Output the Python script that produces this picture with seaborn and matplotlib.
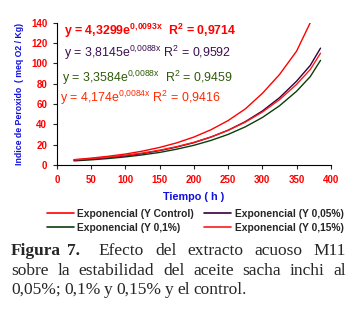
import numpy as np
import pandas as pd
import seaborn as sns
import matplotlib.pyplot as plt

# data (trend curves, peroxide index vs time)
tiempo = [25, 50, 75, 100, 125, 150, 175, 200, 225, 250, 275, 300, 325, 350, 370, 385]
y_control = [5.4, 6.9, 8.7, 10.9, 13.8, 17.4, 21.9, 27.6, 34.8, 43.8, 55.2, 70.5, 89.0, 112.0, 140.0, None]
y_005 = [4.8, 5.9, 7.4, 9.2, 11.4, 14.3, 17.8, 22.1, 27.6, 34.3, 42.7, 53.2, 66.2, 82.5, 98.0, 115.0]
y_01 = [4.2, 5.2, 6.5, 8.1, 10.1, 12.5, 15.7, 19.5, 24.3, 30.2, 37.6, 46.8, 58.3, 72.6, 87.0, 103.0]
y_015 = [5.1, 6.4, 7.8, 9.7, 11.9, 14.7, 18.2, 22.4, 27.7, 34.2, 42.2, 52.1, 64.3, 79.4, 94.0, 110.0]

series = ["Exponencial (Y Control)", "Exponencial (Y 0,1%)",
          "Exponencial (Y 0,05%)", "Exponencial (Y 0,15%)"]
colores = ["#ff0000", "#0b3d0b", "#33003a", "#ff1a1a"]

ecuaciones = [
    (r"y = 4,3299e$^{\mathbf{0{,}0093x}}$  R$^{\mathbf{2}}$ = 0,9714", "#ff0000", "bold"),
    (r"y = 3,8145e$^{\mathrm{0{,}0088x}}$ R$^{\mathrm{2}}$ = 0,9592", "#3a1050", "normal"),
    (r"y = 3,3584e$^{\mathrm{0{,}0088x}}$  R$^{\mathrm{2}}$ = 0,9459", "#2f5a0a", "normal"),
    (r"y = 4,174e$^{\mathrm{0{,}0084x}}$ R$^{\mathrm{2}}$ = 0,9416", "#ff2a00", "normal"),
]

df = pd.DataFrame({
    "Tiempo": tiempo * 4,
    "Valor": y_control + y_01 + y_005 + y_015,
    "Serie": sum([[s] * len(tiempo) for s in series], []),
}).dropna()

sns.set_style("ticks")
plt.rcParams["font.family"] = ["Liberation Sans", "DejaVu Sans"]
plt.rcParams["mathtext.fontset"] = "custom"
plt.rcParams["mathtext.rm"] = "Liberation Sans"
plt.rcParams["mathtext.bf"] = "Liberation Sans:bold"

fig = plt.figure(figsize=(3.58, 3.11), dpi=100)
ax = fig.add_axes([0.159, 0.469, 0.765, 0.458])

sns.lineplot(data=df, x="Tiempo", y="Valor", hue="Serie", hue_order=series,
             palette=colores, linewidth=1.0, ax=ax, legend=False)

ax.set_xlim(0, 400)
ax.set_ylim(0, 140)
ax.set_xticks(np.arange(0, 401, 50))
ax.set_yticks(np.arange(0, 141, 20))
ax.tick_params(labelsize=7.0, labelcolor="#ff0000", length=3, width=0.8, pad=4)
for lab in ax.get_xticklabels() + ax.get_yticklabels():
    lab.set_fontweight("bold")
for s in ["top", "right"]:
    ax.spines[s].set_visible(False)
for s in ["left", "bottom"]:
    ax.spines[s].set_linewidth(0.8)
    ax.spines[s].set_color("black")

ax.set_xlabel("Tiempo ( h )", fontsize=7.8, color="#1010e0", fontweight="bold", labelpad=5)
ax.set_ylabel("Indice de Peroxido  ( meq O2 / Kg)", fontsize=6.3, color="#1010e0",
              fontweight="bold", labelpad=5)

ypos = [0.945, 0.785, 0.61, 0.47]
xpos = [0.026, 0.026, 0.018, 0.011]
for (txt, col, w), yy, xx in zip(ecuaciones, ypos, xpos):
    ax.text(xx, yy, txt, transform=ax.transAxes, color=col, fontsize=8.9,
            fontweight=w, va="center", ha="left")

handles = [plt.Line2D([], [], color=c, linewidth=1.2) for c in colores]
leg = fig.legend(handles, series, ncol=2, loc="center", bbox_to_anchor=(0.545, 0.29),
                 frameon=False, fontsize=7.4, handlelength=2.6, handletextpad=0.35,
                 columnspacing=1.0, labelspacing=0.35)
for t in leg.get_texts():
    t.set_fontweight("bold")

# caption, justified like the original
renderer = fig.canvas.get_renderer()
serif = ["Liberation Serif", "DejaVu Serif"]
left_px, right_px = 11, 346
W, H = fig.bbox.width, fig.bbox.height


def linea(palabras, y_px, pesos_hueco=None, justificar=True):
    objs = []
    for palabra, peso in palabras:
        t = fig.text(0, 1 - y_px / H, palabra, family=serif, fontsize=12.5,
                     fontweight=peso, va="center", ha="left")
        objs.append(t)
    anchos = [o.get_window_extent(renderer).width for o in objs]
    if pesos_hueco is None:
        pesos_hueco = [1.0] * (len(objs) - 1)
    if justificar:
        unidad = (right_px - left_px - sum(anchos)) / sum(pesos_hueco)
    else:
        unidad = 3.5
    x = left_px
    for i, (o, a) in enumerate(zip(objs, anchos)):
        o.set_x(x / W)
        if i < len(pesos_hueco):
            x += a + unidad * pesos_hueco[i]


linea([("Figura", "bold"), ("7.", "bold"), ("Efecto", "normal"), ("del", "normal"),
       ("extracto", "normal"), ("acuoso", "normal"), ("M11", "normal")], 251,
      pesos_hueco=[0.55, 1.7, 1, 1, 1, 1])
linea([(p, "normal") for p in "sobre la estabilidad del aceite sacha inchi al".split()], 271)
linea([(p, "normal") for p in "0,05%; 0,1% y 0,15% y el control.".split()], 290, justificar=False)

fig.savefig("out.png", dpi=100)
